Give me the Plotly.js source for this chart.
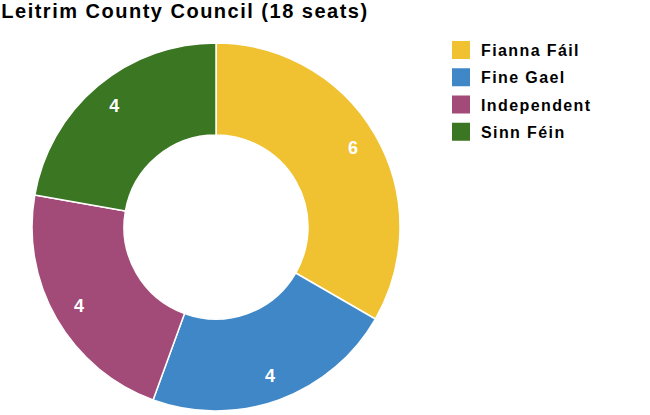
<!DOCTYPE html>
<html><head><meta charset="utf-8">
<script src="https://cdn.plot.ly/plotly-3.0.1.min.js"></script>
<style>
body{margin:0}#c{width:650px;height:415px}
.gtitle{letter-spacing:1.5px}
.legendtext{letter-spacing:1.4px}
</style>
</head><body><div id="c"></div>
<script>
const parties = ["Fianna Fáil", "Fine Gael", "Independent", "Sinn Féin"];
const seats = [6, 4, 4, 4];
const colors = ["#F0C131", "#3F87C7", "#A34B78", "#3B7623"];
const titleText = "Leitrim County Council (18 seats)";

const FONT = "Liberation Sans, Arial, sans-serif";
const dom = {x: [32/650, 400/650], y: [4/415, 372/415]};

const traces = [
  {
    type: "pie", labels: parties, values: seats, hole: 0.5, sort: false,
    direction: "clockwise", rotation: 0, textinfo: "none",
    marker: {colors: colors, line: {color: "#ffffff", width: 1.5}},
    domain: dom, showlegend: false, hoverinfo: "label+value"
  },
  {
    type: "pie", labels: parties, values: seats, hole: 0.72, sort: false,
    direction: "clockwise", rotation: 0, textinfo: "value",
    textposition: "inside", insidetextorientation: "horizontal",
    textfont: {family: FONT, size: 18, color: "#ffffff", weight: "bold"},
    marker: {colors: parties.map(() => "rgba(0,0,0,0)"), line: {width: 0}},
    domain: dom, showlegend: false, hoverinfo: "skip"
  }
];
parties.forEach((p, i) => traces.push({
  type: "scatter", x: [null], y: [null], mode: "markers", name: p,
  legendgroup: "g" + i, hoverinfo: "skip",
  marker: {symbol: "square", size: 16, color: colors[i], line: {color: colors[i], width: 2}}
}));

Plotly.newPlot("c", traces, {
  width: 650, height: 415,
  margin: {l: 0, r: 0, t: 0, b: 0},
  paper_bgcolor: "#ffffff", plot_bgcolor: "rgba(0,0,0,0)",
  xaxis: {visible: false}, yaxis: {visible: false},
  showlegend: true,
  title: {text: titleText, x: 0.002, xref: "paper", xanchor: "left", y: 0.9745, yref: "container", yanchor: "middle",
    pad: {t: 0, l: 0}, font: {family: FONT, size: 20, color: "#000000", weight: "bold"}},
  legend: {x: 441/650, y: 1 - 33/415, xanchor: "left", yanchor: "top",
    font: {family: FONT, size: 16, color: "#000000", weight: "bold"},
    tracegroupgap: 3.5, itemsizing: "trace"}
}, {displayModeBar: false});
</script>
</body></html>
